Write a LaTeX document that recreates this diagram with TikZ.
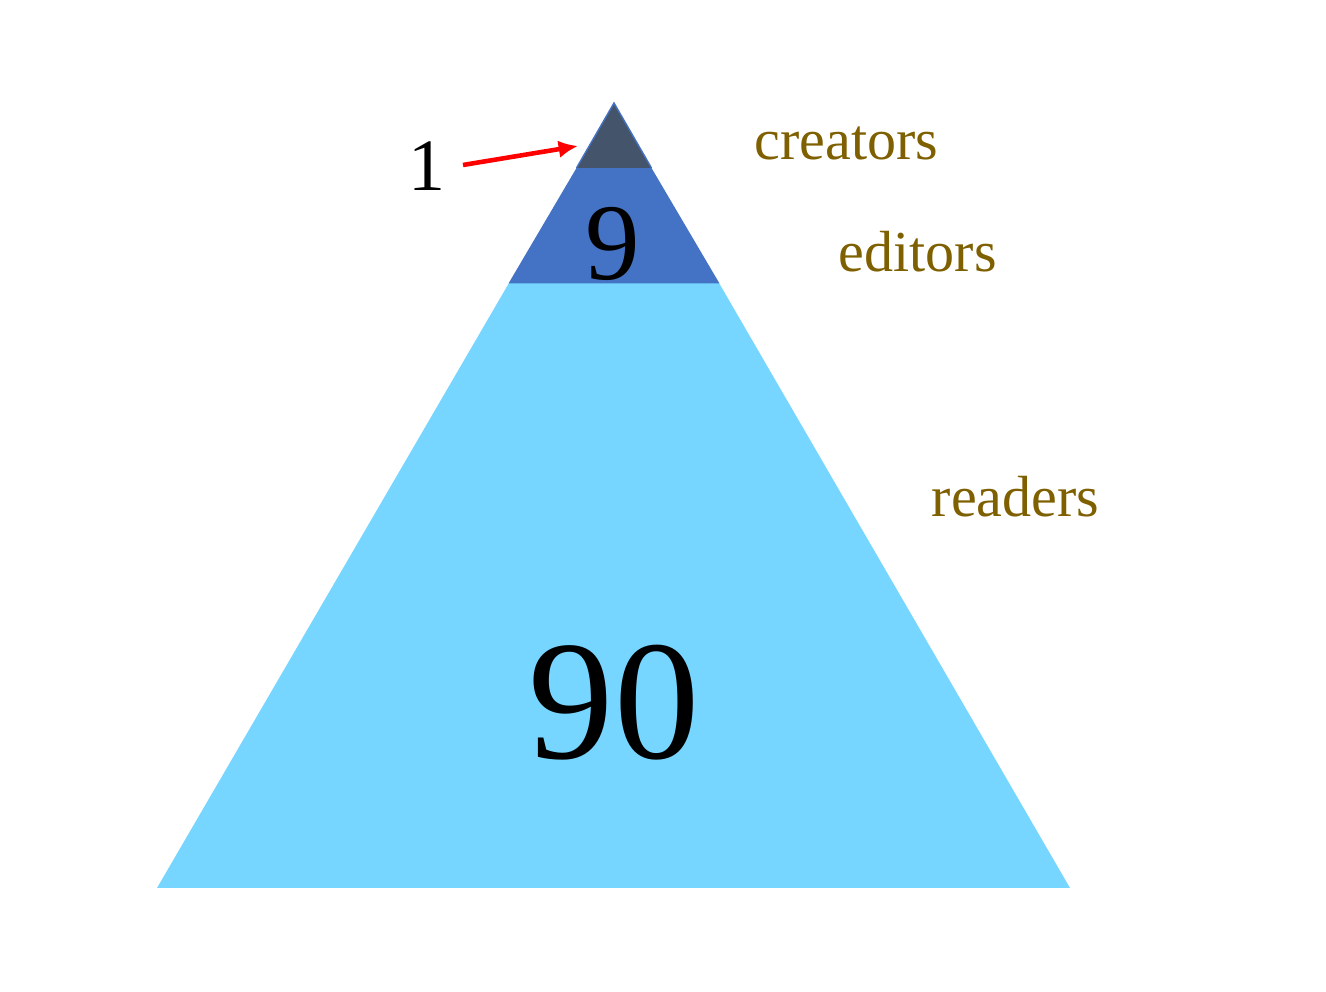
\documentclass[tikz,border=0pt]{standalone}
\usepackage{fontspec}
\setmainfont{Liberation Serif}
\usetikzlibrary{arrows.meta}
\definecolor{lightband}{HTML}{76D6FF}
\definecolor{midband}{HTML}{4472C4}
\definecolor{topband}{HTML}{44546A}
\definecolor{labelgold}{HTML}{7F6000}
\tikzset{
  lbl/.style={anchor=base west, inner sep=0pt, text=labelgold, font=\fontsize{16.5}{18}\selectfont},
  num/.style={anchor=base, inner sep=0pt, text=black},
  ptr/.style={draw=red, line width=1.3pt, -{Latex[length=5.5pt,width=5pt]}}
}
\begin{document}
\begin{tikzpicture}[x=0.01cm,y=-0.01cm]
\useasboundingbox (0,0) rectangle (1326,992);
% pyramid layers
\fill[lightband] (509,283) -- (719,283) -- (1070,888) -- (157,888) -- cycle;
\fill[midband] (576.5,168) -- (651.5,168) -- (719.5,283.5) -- (508.5,283.5) -- cycle;
\fill[topband] (614,103) -- (651.5,168) -- (576.5,168) -- cycle;
\draw[midband, line width=0.4pt] (576.5,168) -- (614,103) -- (651.5,168);
% numbers
\node[num, font=\fontsize{31}{34}\selectfont] (nine) at (613,280) {9};
\node[num, font=\fontsize{48.5}{54}\selectfont] (ninety) at (614,759) {90};
\node[num, font=\fontsize{21}{24}\selectfont] (one) at (427,191) {1};
% labels
\node[lbl] (creators) at (754,160) {creators};
\node[lbl] (editors) at (838,272) {editors};
\node[lbl] (readers) at (931,517) {readers};
% pointer
\coordinate (tip) at (578,146);
\coordinate (tail) at (463,165);
\draw[ptr] (tail) -- (tip);
\end{tikzpicture}
\end{document}
